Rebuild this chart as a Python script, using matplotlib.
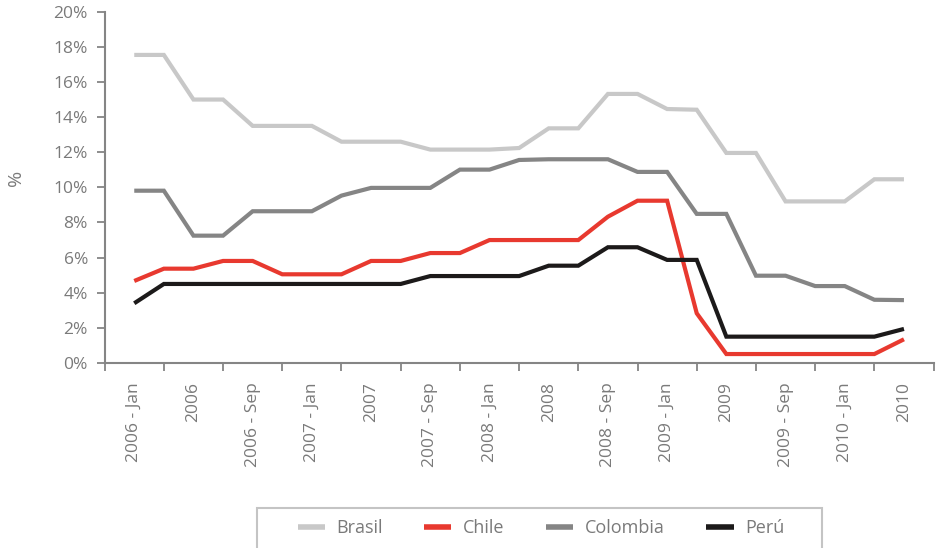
import matplotlib
matplotlib.use("Agg")
import matplotlib.pyplot as plt
from matplotlib.patches import Rectangle
from matplotlib.ticker import FixedLocator, FuncFormatter

plt.rcParams['font.family'] = ['Open Sans', 'DejaVu Sans']

# Period labels (one per pair of observations)
period_labels = ["2006 - Jan", "2006", "2006 - Sep", "2007 - Jan", "2007",
                 "2007 - Sep", "2008 - Jan", "2008", "2008 - Sep", "2009 - Jan",
                 "2009", "2009 - Sep", "2010 - Jan", "2010"]

# Policy rates (%), 27 observations
brasil = [17.54, 17.54, 15.0, 15.0, 13.5, 13.5, 13.5, 12.6, 12.6, 12.6,
          12.15, 12.15, 12.15, 12.24, 13.36, 13.36, 15.32, 15.32, 14.46, 14.42,
          11.96, 11.96, 9.2, 9.2, 9.2, 10.46, 10.46]
chile = [4.67, 5.37, 5.37, 5.81, 5.81, 5.05, 5.05, 5.05, 5.81, 5.81,
         6.26, 6.26, 7.0, 7.0, 7.0, 7.0, 8.33, 9.24, 9.24, 2.83,
         0.51, 0.51, 0.51, 0.51, 0.51, 0.51, 1.35]
colombia = [9.81, 9.81, 7.25, 7.25, 8.64, 8.64, 8.64, 9.53, 9.97, 9.97,
            9.97, 11.01, 11.01, 11.56, 11.6, 11.6, 11.6, 10.88, 10.88, 8.49,
            8.49, 4.97, 4.97, 4.38, 4.38, 3.6, 3.58]
peru = [3.4, 4.5, 4.5, 4.5, 4.5, 4.5, 4.5, 4.5, 4.5, 4.5,
        4.95, 4.95, 4.95, 4.95, 5.54, 5.54, 6.59, 6.59, 5.87, 5.87,
        1.5, 1.5, 1.5, 1.5, 1.5, 1.5, 1.94]

series = [("Brasil", brasil, "#c8c8c8"),
          ("Chile", chile, "#e8392f"),
          ("Colombia", colombia, "#858585"),
          ("Perú", peru, "#1c1a1a")]

axis_gray = "#858585"
text_gray = "#7a7a7a"

fig = plt.figure(figsize=(9.36, 5.48), dpi=100)
ax = fig.add_axes([0.1118, 0.3376, 0.8856, 0.641])

x = list(range(len(brasil)))
for name, vals, color in series:
    ax.plot(x, vals, color=color, lw=3.0, label=name,
            solid_joinstyle="miter", solid_capstyle="butt")

n = len(brasil)
ax.set_xlim(-1, n)
ax.set_ylim(0, 20)

# Tick marks between periods, labels at the center of each period
ax.xaxis.set_major_locator(FixedLocator(list(range(-1, n + 1, 2))))
ax.xaxis.set_major_formatter(FuncFormatter(lambda v, p: ""))
ax.xaxis.set_minor_locator(FixedLocator(list(range(0, n, 2))))
ax.set_xticklabels(period_labels, minor=True, rotation=90, va="top",
                   ha="center", fontsize=12.5, color=text_gray)
ax.tick_params(axis="x", which="minor", length=0, pad=14)
ax.tick_params(axis="x", which="major", length=6, width=1.3, color=axis_gray)

ax.set_yticks(range(0, 21, 2))
ax.yaxis.set_major_formatter(FuncFormatter(lambda v, p: f"{int(v)}%"))
ax.tick_params(axis="y", length=6, width=1.3, color=axis_gray,
               labelsize=12.5, labelcolor=text_gray, pad=6)

for side in ("top", "right"):
    ax.spines[side].set_visible(False)
for side in ("left", "bottom"):
    ax.spines[side].set_color(axis_gray)
    ax.spines[side].set_linewidth(1.5)

fig.text(0.017, 0.675, "%", rotation=90, ha="center", va="center",
         fontsize=14, color=text_gray)

# Legend frame drawn separately so it can run past the bottom edge
fig.patches.append(Rectangle((257 / 936, -0.05), (822 - 257) / 936,
                             0.05 + (548 - 508) / 548,
                             transform=fig.transFigure, fill=False,
                             edgecolor="#c4c4c4", linewidth=1.5))

leg = fig.legend(loc="center", bbox_to_anchor=(541 / 936, 1 - 528 / 548),
                 ncol=4, frameon=False, fontsize=13,
                 handlelength=1.5, handletextpad=0.65, columnspacing=2.3,
                 borderpad=0, borderaxespad=0)
for t in leg.get_texts():
    t.set_color(text_gray)
for h in leg.get_lines():
    h.set_linewidth(4)
    h.set_solid_capstyle("butt")

fig.savefig("out.png", dpi=100)
